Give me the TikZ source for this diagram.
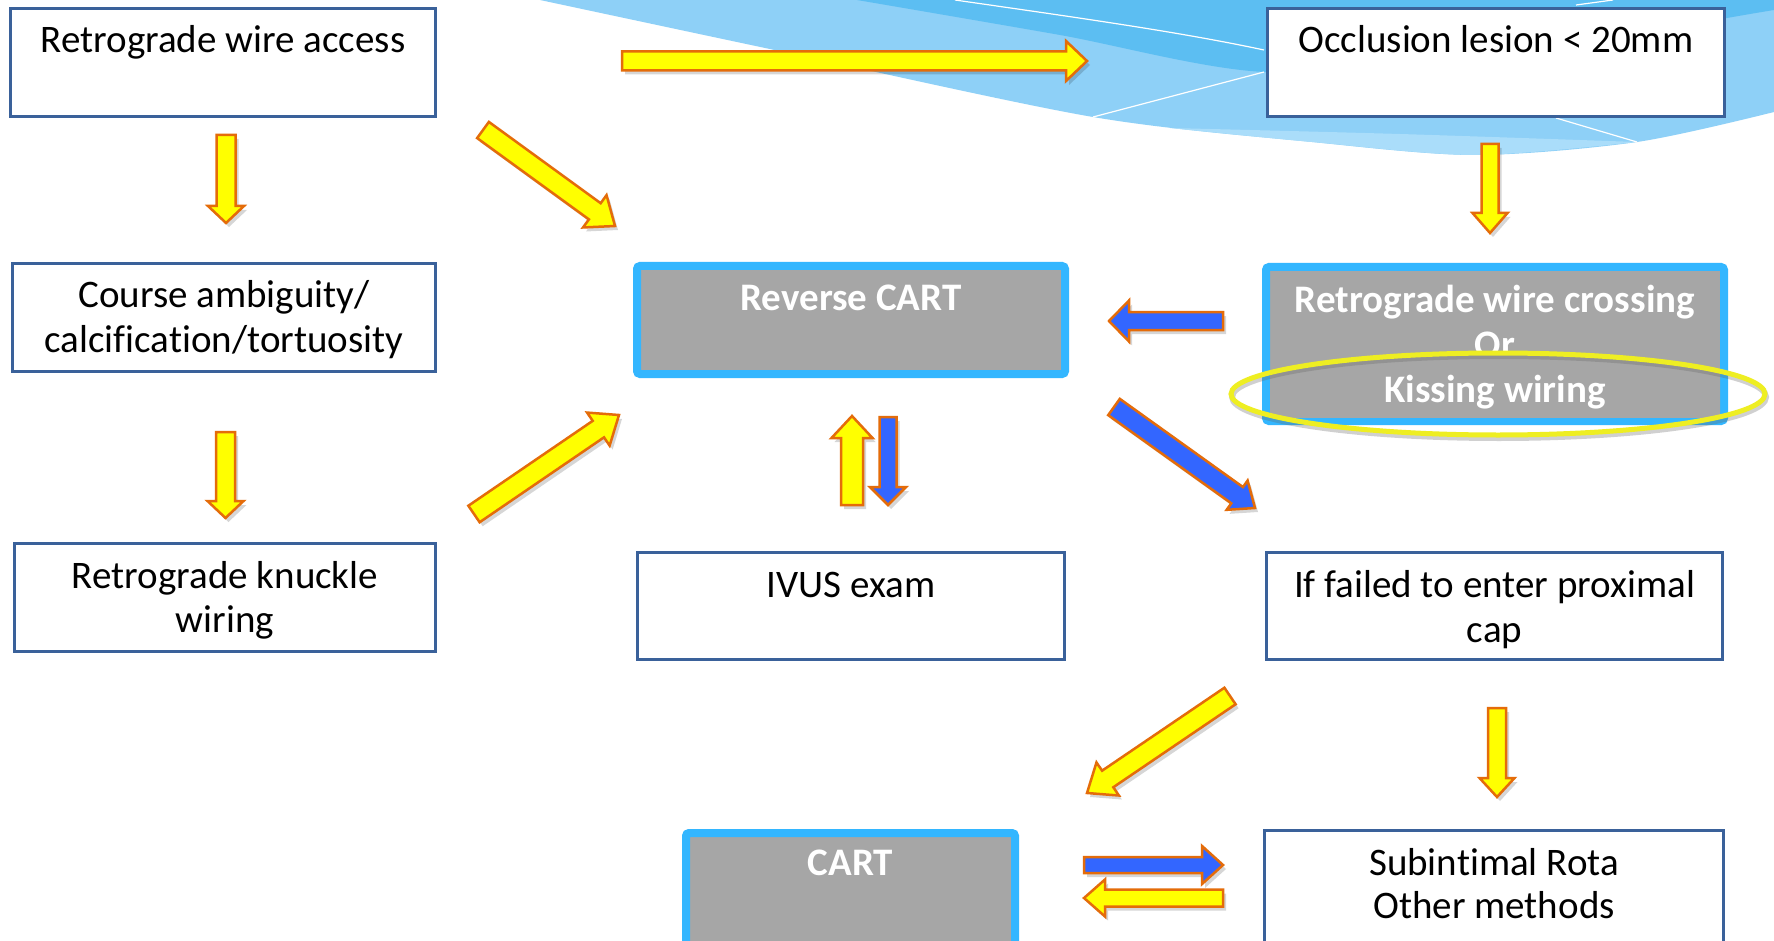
\documentclass[tikz,border=0pt]{standalone}
\usepackage{fontspec}
\setmainfont{Carlito}[Ligatures=NoCommon]
\usetikzlibrary{calc}
\definecolor{yel}{HTML}{FFFF00}
\definecolor{org}{HTML}{E46C0A}
\definecolor{blu}{HTML}{3366FF}
\definecolor{bord}{HTML}{3A619A}
\definecolor{cyanb}{HTML}{33B6FF}
\definecolor{grayf}{HTML}{A6A6A6}
\definecolor{waveA}{HTML}{8ED0F7}
\definecolor{waveB}{HTML}{5CBEF2}
\definecolor{waveC}{HTML}{AADDFA}
\definecolor{ringy}{HTML}{EEEE22}
\newcommand\blockarrow[6]{%
  \coordinate (#2-n) at ($(#3)!#6pt!(#2)$);
  \fill[black, opacity=0.16, transform canvas={xshift=3pt,yshift=-4pt}]
    ($(#2)!#4pt!90:(#3)$) -- ($(#2-n)!#4pt!90:(#3)$) -- ($(#2-n)!#5pt!90:(#3)$) -- (#3)
    -- ($(#2-n)!#5pt!-90:(#3)$) -- ($(#2-n)!#4pt!-90:(#3)$) -- ($(#2)!#4pt!-90:(#3)$) -- cycle;
  \filldraw[#1]
    ($(#2)!#4pt!90:(#3)$) -- ($(#2-n)!#4pt!90:(#3)$) -- ($(#2-n)!#5pt!90:(#3)$) -- (#3)
    -- ($(#2-n)!#5pt!-90:(#3)$) -- ($(#2-n)!#4pt!-90:(#3)$) -- ($(#2)!#4pt!-90:(#3)$) -- cycle;
}
\begin{document}
\begin{tikzpicture}[x=1pt, y=-1pt,
  yarrow/.style={fill=yel, draw=org, line width=2.5pt, line join=miter},
  barrow/.style={fill=blu, draw=org, line width=2.5pt, line join=miter},
  plainbox/.style={draw=bord, line width=3pt, fill=white, inner sep=0pt},
  graybox/.style={draw=cyanb, fill=grayf, line width=8pt, rounded corners=3pt, inner sep=0pt},
  txt/.style={font=\fontsize{39}{45}\selectfont, inner sep=0pt, anchor=base},
  wtxt/.style={font=\fontsize{39}{45}\selectfont\bfseries, text=white, inner sep=0pt, anchor=base}]
\clip (0,0) rectangle (1774,941);
\fill[white] (0,0) rectangle (1774,941);
% background wave
\fill[waveA] plot[smooth] coordinates {(540,0) (784,52) (1093,117) (1312,142) (1475,155) (1637,142) (1774,112)} -- (1774,0) -- cycle;
\fill[waveC] plot[smooth] coordinates {(1170,128) (1312,142) (1475,155) (1637,142)} -- plot[smooth] coordinates {(1637,142) (1400,134) (1170,128)} -- cycle;
\fill[waveB] plot[smooth] coordinates {(857,0) (1060,35) (1264,72) (1500,58) (1727,18) (1774,10)} -- (1774,0) -- cycle;
\draw[white, line width=1.2pt] (955,0) .. controls (1080,18) and (1180,32) .. (1264,50);
\draw[white, line width=1.2pt] (1093,117) -- (1264,72);
\draw[white, line width=1.2pt] (1556,118) -- (1637,142);
\draw[white, line width=1.2pt] (1576,5) -- (1613,0);
% boxes
\node[plainbox, minimum width=425pt, minimum height=108pt] (b1) at (223,62.5) {};
\node[plainbox, minimum width=423pt, minimum height=108pt] (b2) at (224,317.5) {};
\node[plainbox, minimum width=421pt, minimum height=108pt] (b3) at (225,597.5) {};
\node[plainbox, minimum width=427pt, minimum height=107pt] (ivus) at (851,606) {};
\node[plainbox, minimum width=457pt, minimum height=108pt] (occl) at (1496,62.5) {};
\node[plainbox, minimum width=456pt, minimum height=107pt] (fail) at (1494.5,606) {};
\node[plainbox, minimum width=459pt, minimum height=129pt] (subi) at (1494,895) {};
\node[graybox, minimum width=428pt, minimum height=108pt] (rcart) at (851,320) {};
\node[graybox, minimum width=458pt, minimum height=154pt] (cross) at (1495,344) {};
\node[graybox, minimum width=329pt, minimum height=127pt] (cart) at (850.5,896.5) {};
% texts
\node[txt] (t1) at (223,53) {Retrograde wire access};
\node[txt] (t2a) at (224,307) {Course ambiguity/};
\node[txt] (t2b) at (224,352) {calcification/tortuosity};
\node[txt] (t3a) at (225,588) {Retrograde knuckle};
\node[txt] (t3b) at (225,632) {wiring};
\node[txt] (t4) at (1496,53) {Occlusion lesion < 20mm};
\node[wtxt] (t5) at (851,310) {Reverse CART};
\node[txt] (t6) at (851,597) {IVUS exam};
\node[txt] (t7a) at (1494.5,597) {If failed to enter proximal};
\node[txt] (t7b) at (1494.5,642) {cap};
\node[wtxt] (t8) at (850.5,875) {CART};
\node[txt] (t9a) at (1494,875) {Subintimal Rota};
\node[txt] (t9b) at (1494,918) {Other methods};
\node[wtxt] (t10a) at (1495,312) {Retrograde wire crossing};
\node[wtxt] (t10b) at (1495,357) {Or};
% ring
\begin{scope}
  \clip (1270,271) rectangle (1720,417);
  \fill[grayf] (1498,394) ellipse [x radius=267, y radius=41];
\end{scope}
\draw[black!60, opacity=0.3, line width=6pt] (1499,397) ellipse [x radius=267, y radius=41];
\draw[ringy, line width=5pt] (1498,394) ellipse [x radius=267, y radius=41];
\node[wtxt] (t10c) at (1495,402) {Kissing wiring};
% arrow end points
\coordinate (a1t) at (226,135);   \coordinate (a1h) at (226,223);
\coordinate (a2t) at (225.5,432); \coordinate (a2h) at (225.5,518);
\coordinate (a3t) at (1490,144);  \coordinate (a3h) at (1490,233);
\coordinate (a4t) at (1497,708);  \coordinate (a4h) at (1497,797);
\coordinate (a5t) at (622,61);    \coordinate (a5h) at (1087,61);
\coordinate (a6t) at (483,130);   \coordinate (a6h) at (615,226);
\coordinate (a7t) at (474,514);   \coordinate (a7h) at (619,415);
\coordinate (a8t) at (1223,321);  \coordinate (a8h) at (1109,321);
\coordinate (a9t) at (852,505);   \coordinate (a9h) at (852,416);
\coordinate (a10t) at (888,417);  \coordinate (a10h) at (888,505);
\coordinate (a11t) at (1114,407); \coordinate (a11h) at (1255,508);
\coordinate (a12t) at (1230,696); \coordinate (a12h) at (1087,793);
\coordinate (a13t) at (1084,865); \coordinate (a13h) at (1223,865);
\coordinate (a14t) at (1223,898); \coordinate (a14h) at (1084,898);
% arrows
\blockarrow{yarrow}{a1t}{a1h}{9.5}{18}{17}
\blockarrow{yarrow}{a2t}{a2h}{9.5}{18}{17}
\blockarrow{yarrow}{a3t}{a3h}{8.5}{17.5}{20}
\blockarrow{yarrow}{a4t}{a4h}{9}{17.5}{19}
\blockarrow{yarrow}{a5t}{a5h}{9.5}{20}{21}
\blockarrow{yarrow}{a6t}{a6h}{10}{20}{25}
\blockarrow{yarrow}{a7t}{a7h}{10}{20}{25}
\blockarrow{barrow}{a8t}{a8h}{9}{20.5}{20}
\blockarrow{yarrow}{a9t}{a9h}{11}{20.5}{22}
\blockarrow{barrow}{a10t}{a10h}{8.5}{18}{18}
\blockarrow{barrow}{a11t}{a11h}{10}{18}{22}
\blockarrow{yarrow}{a12t}{a12h}{10}{20}{25}
\blockarrow{barrow}{a13t}{a13h}{8}{19}{21}
\blockarrow{yarrow}{a14t}{a14h}{8.5}{18.5}{21}
\end{tikzpicture}
\end{document}
